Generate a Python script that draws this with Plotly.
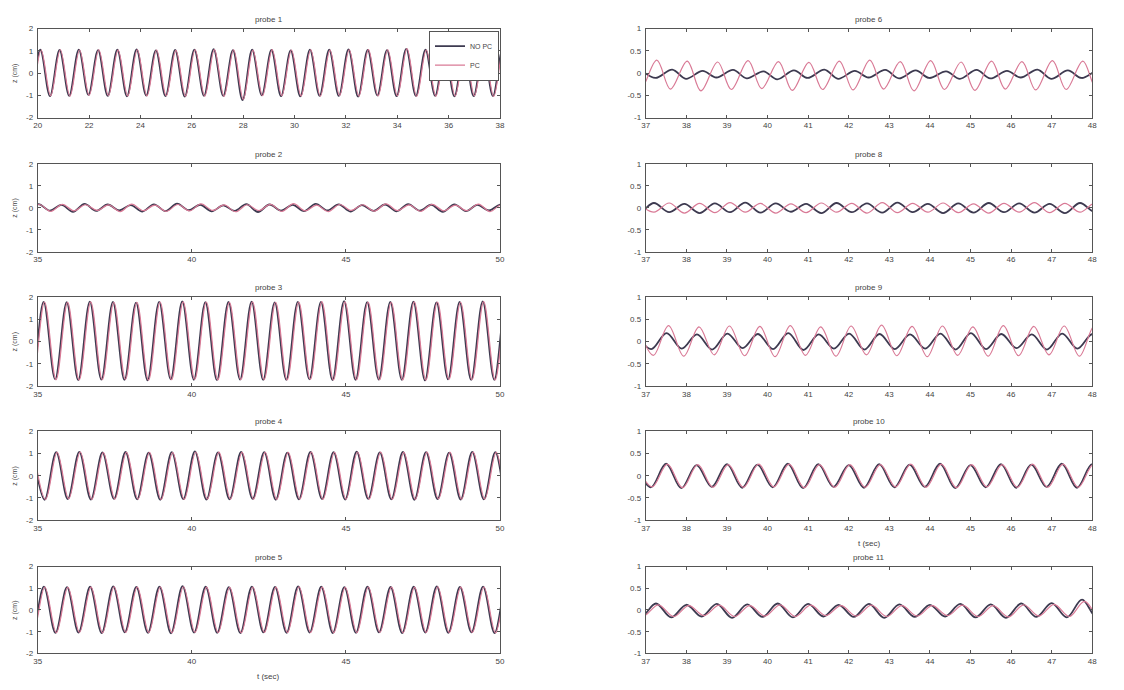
import plotly.graph_objects as go

PERIOD = 0.75  # wave period in seconds

SERIES_NAMES = ["NO PC", "PC"]
TITLES = ["probe 1", "probe 2", "probe 3", "probe 4", "probe 5",
          "probe 6", "probe 8", "probe 9", "probe 10", "probe 11"]

LEFT_Y_TICKS = [-2, -1, 0, 1, 2]
RIGHT_Y_TICKS = [-1, -0.5, 0, 0.5, 1]
RIGHT_Y_TEXT = ["-1", "-0.5", "0", "0.5", "1"]
P1_X_TICKS = [20, 22, 24, 26, 28, 30, 32, 34, 36, 38]
LEFT_X_TICKS = [35, 40, 45, 50]
RIGHT_X_TICKS = [37, 38, 39, 40, 41, 42, 43, 44, 45, 46, 47, 48]

# time of the first crest of each record and the crest-to-trough fraction of a period
PHASE_NOPC = [19.35, 34.27, 34.44, 34.85, 34.45, 36.90, 36.45, 36.76, 36.75, 36.50]
PHASE_PC = [19.38, 34.30, 34.47, 34.88, 34.48, 36.52, 36.825, 36.81, 36.78, 36.56]
TROUGH_FRAC = [0.5, 0.5, 0.5, 0.5, 0.5, 0.45, 0.5, 0.5, 0.5, 0.5]

# crest and trough elevations read per wave (cm)
P1_NOPC_CREST = [1.02, 1.05, 1.04, 1.06, 1.03, 1.05, 1.07, 1.02, 1.04, 1.06, 1.08, 1.03, 1.05,
                 1.04, 1.02, 1.06, 1.05, 1.07, 1.04, 1.03, 1.09, 1.05, 1.04, 1.06, 1.03, 1.05]
P1_NOPC_TROUGH = [-1.00, -1.04, -1.02, -0.98, -1.03, -1.05, -1.01, -1.04, -1.06, -1.02, -1.03, -1.22, -1.00,
                  -1.04, -1.05, -1.02, -1.03, -1.06, -1.01, -1.04, -1.03, -1.02, -1.05, -1.04, -1.03, -1.02]
P1_PC_CREST = [1.00, 1.03, 1.05, 1.04, 1.05, 1.03, 1.05, 1.04, 1.02, 1.05, 1.06, 1.05, 1.03,
               1.06, 1.04, 1.05, 1.03, 1.05, 1.06, 1.05, 1.10, 1.04, 1.06, 1.04, 1.05, 1.04]
P1_PC_TROUGH = [-0.98, -1.02, -1.04, -1.00, -1.01, -1.03, -1.03, -1.02, -1.04, -1.04, -1.05, -1.18, -1.02,
                -1.02, -1.03, -1.04, -1.01, -1.04, -1.03, -1.02, -1.05, -1.04, -1.03, -1.02, -1.05, -1.03]

P2_NOPC_CREST = [0.14, 0.17, 0.13, 0.18, 0.15, 0.12, 0.16, 0.19, 0.14, 0.11, 0.17,
                 0.15, 0.13, 0.18, 0.16, 0.12, 0.15, 0.17, 0.14, 0.16, 0.13, 0.15]
P2_NOPC_TROUGH = [-0.16, -0.13, -0.18, -0.14, -0.12, -0.17, -0.15, -0.11, -0.16, -0.14, -0.19,
                  -0.13, -0.15, -0.12, -0.17, -0.14, -0.16, -0.13, -0.18, -0.15, -0.12, -0.16]
P2_PC_CREST = [0.12, 0.15, 0.16, 0.14, 0.13, 0.17, 0.12, 0.15, 0.18, 0.13, 0.14,
               0.16, 0.19, 0.12, 0.15, 0.14, 0.18, 0.13, 0.16, 0.12, 0.17, 0.14]
P2_PC_TROUGH = [-0.13, -0.16, -0.14, -0.12, -0.17, -0.13, -0.16, -0.14, -0.12, -0.18, -0.13,
                -0.16, -0.14, -0.17, -0.12, -0.15, -0.13, -0.16, -0.14, -0.13, -0.17, -0.15]

P3_NOPC_CREST = [1.76, 1.79, 1.77, 1.80, 1.78, 1.75, 1.79, 1.81, 1.77, 1.78, 1.80,
                 1.76, 1.79, 1.78, 1.82, 1.77, 1.79, 1.80, 1.76, 1.78, 1.81, 1.79]
P3_NOPC_TROUGH = [-1.72, -1.70, -1.74, -1.71, -1.73, -1.75, -1.70, -1.72, -1.74, -1.71, -1.73,
                  -1.72, -1.70, -1.74, -1.73, -1.71, -1.72, -1.75, -1.70, -1.73, -1.72, -1.71]
P3_PC_CREST = [1.74, 1.78, 1.76, 1.79, 1.77, 1.77, 1.78, 1.79, 1.78, 1.76, 1.79,
               1.77, 1.78, 1.80, 1.79, 1.78, 1.77, 1.79, 1.78, 1.77, 1.80, 1.78]
P3_PC_TROUGH = [-1.70, -1.72, -1.73, -1.72, -1.71, -1.74, -1.72, -1.71, -1.73, -1.72, -1.72,
                -1.73, -1.71, -1.73, -1.72, -1.72, -1.73, -1.74, -1.71, -1.72, -1.73, -1.72]

P4_NOPC_CREST = [1.04, 1.06, 1.08, 1.05, 1.07, 1.04, 1.06, 1.10, 1.05, 1.07, 1.06,
                 1.04, 1.08, 1.06, 1.09, 1.05, 1.07, 1.06, 1.04, 1.08, 1.06, 1.05]
P4_NOPC_TROUGH = [-1.08, -1.05, -1.07, -1.04, -1.06, -1.08, -1.05, -1.07, -1.06, -1.04, -1.08,
                  -1.06, -1.05, -1.07, -1.04, -1.06, -1.08, -1.05, -1.07, -1.06, -1.05, -1.07]
P4_PC_CREST = [1.02, 1.05, 1.06, 1.04, 1.05, 1.05, 1.04, 1.07, 1.06, 1.05, 1.05,
               1.05, 1.06, 1.05, 1.07, 1.06, 1.05, 1.06, 1.05, 1.06, 1.05, 1.04]
P4_PC_TROUGH = [-1.06, -1.04, -1.06, -1.05, -1.05, -1.07, -1.06, -1.05, -1.05, -1.05, -1.06,
                -1.05, -1.06, -1.05, -1.05, -1.06, -1.06, -1.04, -1.06, -1.05, -1.06, -1.05]

P5_NOPC_CREST = [1.06, 1.08, 1.05, 1.07, 1.09, 1.06, 1.08, 1.10, 1.07, 1.05, 1.08,
                 1.06, 1.09, 1.07, 1.05, 1.08, 1.06, 1.07, 1.09, 1.06, 1.08, 1.07]
P5_NOPC_TROUGH = [-1.03, -1.05, -1.04, -1.06, -1.03, -1.05, -1.07, -1.04, -1.05, -1.06, -1.03,
                  -1.05, -1.04, -1.06, -1.05, -1.03, -1.06, -1.04, -1.05, -1.03, -1.06, -1.04]
P5_PC_CREST = [1.04, 1.06, 1.04, 1.05, 1.07, 1.05, 1.06, 1.07, 1.05, 1.04, 1.06,
               1.05, 1.07, 1.05, 1.04, 1.06, 1.05, 1.05, 1.07, 1.05, 1.06, 1.05]
P5_PC_TROUGH = [-1.02, -1.04, -1.03, -1.05, -1.03, -1.04, -1.05, -1.03, -1.04, -1.05, -1.03,
                -1.04, -1.03, -1.05, -1.04, -1.03, -1.05, -1.03, -1.04, -1.03, -1.05, -1.04]

P6_NOPC_CREST = [0.06, 0.08, 0.05, 0.07, 0.04, 0.06, 0.08, 0.05, 0.07, 0.06, 0.04, 0.07, 0.05, 0.08, 0.06, 0.05, 0.07]
P6_NOPC_TROUGH = [-0.11, -0.13, -0.10, -0.12, -0.14, -0.11, -0.13, -0.10, -0.12, -0.11, -0.13, -0.12, -0.10, -0.13, -0.11, -0.12, -0.10]
P6_PC_CREST = [0.26, 0.29, 0.27, 0.25, 0.28, 0.26, 0.24, 0.27, 0.29, 0.26, 0.28, 0.25, 0.27, 0.26, 0.28, 0.27, 0.25]
P6_PC_TROUGH = [-0.38, -0.36, -0.40, -0.37, -0.35, -0.39, -0.37, -0.38, -0.36, -0.40, -0.37, -0.39, -0.36, -0.38, -0.37, -0.35, -0.38]

P8_NOPC_CREST = [0.10, 0.11, 0.09, 0.10, 0.12, 0.10, 0.09, 0.11, 0.10, 0.12, 0.09, 0.10, 0.11, 0.10, 0.09, 0.11, 0.10]
P8_NOPC_TROUGH = [-0.11, -0.10, -0.12, -0.10, -0.11, -0.09, -0.12, -0.10, -0.11, -0.10, -0.12, -0.11, -0.10, -0.11, -0.12, -0.10, -0.11]
P8_PC_CREST = [0.09, 0.11, 0.10, 0.12, 0.10, 0.09, 0.11, 0.10, 0.12, 0.10, 0.11, 0.09, 0.10, 0.12, 0.10, 0.11, 0.09]
P8_PC_TROUGH = [-0.10, -0.12, -0.11, -0.10, -0.12, -0.11, -0.10, -0.12, -0.11, -0.10, -0.11, -0.12, -0.10, -0.11, -0.10, -0.12, -0.11]

P9_NOPC_CREST = [0.17, 0.19, 0.16, 0.18, 0.17, 0.19, 0.16, 0.18, 0.17, 0.16, 0.18, 0.19, 0.17, 0.16, 0.18, 0.17, 0.19]
P9_NOPC_TROUGH = [-0.17, -0.16, -0.18, -0.15, -0.17, -0.19, -0.16, -0.18, -0.17, -0.16, -0.18, -0.17, -0.15, -0.18, -0.16, -0.17, -0.18]
P9_PC_CREST = [0.34, 0.36, 0.33, 0.35, 0.34, 0.36, 0.33, 0.35, 0.37, 0.34, 0.35, 0.33, 0.36, 0.34, 0.35, 0.36, 0.34]
P9_PC_TROUGH = [-0.31, -0.33, -0.30, -0.32, -0.34, -0.31, -0.33, -0.30, -0.32, -0.34, -0.31, -0.33, -0.32, -0.30, -0.33, -0.31, -0.32]

P10_NOPC_CREST = [0.25, 0.27, 0.24, 0.26, 0.25, 0.27, 0.26, 0.24, 0.26, 0.25, 0.27, 0.24, 0.26, 0.25, 0.27, 0.26, 0.25]
P10_NOPC_TROUGH = [-0.26, -0.28, -0.25, -0.27, -0.26, -0.28, -0.25, -0.27, -0.26, -0.25, -0.28, -0.26, -0.27, -0.25, -0.27, -0.26, -0.28]
P10_PC_CREST = [0.24, 0.26, 0.25, 0.25, 0.26, 0.26, 0.25, 0.25, 0.25, 0.26, 0.26, 0.25, 0.25, 0.26, 0.26, 0.25, 0.26]
P10_PC_TROUGH = [-0.25, -0.27, -0.26, -0.26, -0.25, -0.27, -0.26, -0.26, -0.25, -0.26, -0.27, -0.25, -0.26, -0.26, -0.26, -0.25, -0.27]

P11_NOPC_CREST = [0.13, 0.15, 0.12, 0.14, 0.13, 0.15, 0.14, 0.12, 0.14, 0.13, 0.12, 0.14, 0.13, 0.15, 0.16, 0.24, 0.14]
P11_NOPC_TROUGH = [-0.16, -0.17, -0.15, -0.18, -0.16, -0.17, -0.15, -0.16, -0.18, -0.16, -0.15, -0.17, -0.18, -0.16, -0.17, -0.19, -0.18]
P11_PC_CREST = [0.10, 0.12, 0.10, 0.11, 0.10, 0.12, 0.11, 0.10, 0.11, 0.10, 0.10, 0.11, 0.10, 0.12, 0.13, 0.20, 0.12]
P11_PC_TROUGH = [-0.14, -0.15, -0.13, -0.15, -0.14, -0.15, -0.13, -0.14, -0.15, -0.14, -0.13, -0.15, -0.16, -0.14, -0.15, -0.17, -0.16]

NOPC_RECORDS = [
    (P1_NOPC_CREST, P1_NOPC_TROUGH), (P2_NOPC_CREST, P2_NOPC_TROUGH), (P3_NOPC_CREST, P3_NOPC_TROUGH),
    (P4_NOPC_CREST, P4_NOPC_TROUGH), (P5_NOPC_CREST, P5_NOPC_TROUGH), (P6_NOPC_CREST, P6_NOPC_TROUGH),
    (P8_NOPC_CREST, P8_NOPC_TROUGH), (P9_NOPC_CREST, P9_NOPC_TROUGH), (P10_NOPC_CREST, P10_NOPC_TROUGH),
    (P11_NOPC_CREST, P11_NOPC_TROUGH),
]
PC_RECORDS = [
    (P1_PC_CREST, P1_PC_TROUGH), (P2_PC_CREST, P2_PC_TROUGH), (P3_PC_CREST, P3_PC_TROUGH),
    (P4_PC_CREST, P4_PC_TROUGH), (P5_PC_CREST, P5_PC_TROUGH), (P6_PC_CREST, P6_PC_TROUGH),
    (P8_PC_CREST, P8_PC_TROUGH), (P9_PC_CREST, P9_PC_TROUGH), (P10_PC_CREST, P10_PC_TROUGH),
    (P11_PC_CREST, P11_PC_TROUGH),
]


def extrema_series(t_first, frac, crests, troughs):
    """Interleave crest and trough samples on the time axis."""
    t, z = [], []
    for k, (c, tr) in enumerate(zip(crests, troughs)):
        t.append(t_first + k * PERIOD)
        z.append(c)
        t.append(t_first + (k + frac) * PERIOD)
        z.append(tr)
    return t, z


W, H = 1124, 690
# panel boxes in pixels: (left, right) columns and (top, bottom) rows
COLS = [(34, 500), (647, 1097)]
ROWS = [(25, 115), (162, 251), (297, 387), (433, 523), (570, 658)]

AXIS_COLOR = "#555555"
TEXT_COLOR = "#444444"
FONT = "Liberation Sans"
NOPC_COLOR = "#3d3a50"
PC_COLOR = "#d97a96"

fig = go.Figure()
annotations = []
layout_axes = {}

for i in range(10):
    col = 0 if i < 5 else 1
    row = i % 5
    n = i + 1
    xa = "xaxis" if n == 1 else f"xaxis{n}"
    ya = "yaxis" if n == 1 else f"yaxis{n}"
    xref = "x" if n == 1 else f"x{n}"
    yref = "y" if n == 1 else f"y{n}"

    l, r = COLS[col]
    top, bot = ROWS[row]
    xdom = [l / W, r / W]
    ydom = [1 - bot / H, 1 - top / H]

    if col == 0:
        xticks = P1_X_TICKS if i == 0 else LEFT_X_TICKS
        yticks, ytext = LEFT_Y_TICKS, [str(v) for v in LEFT_Y_TICKS]
    else:
        xticks = RIGHT_X_TICKS
        yticks, ytext = RIGHT_Y_TICKS, RIGHT_Y_TEXT
    xr = [xticks[0], xticks[-1]]
    yr = [yticks[0], yticks[-1]]

    common = dict(showline=True, linecolor=AXIS_COLOR, linewidth=1, mirror="ticks",
                  ticks="inside", ticklen=3, tickcolor=AXIS_COLOR, tickwidth=1,
                  showgrid=False, zeroline=False,
                  tickfont=dict(family=FONT, size=8, color=TEXT_COLOR))
    layout_axes[xa] = dict(common, domain=xdom, range=xr, tickvals=xticks,
                           ticktext=[str(v) for v in xticks], anchor=yref)
    layout_axes[ya] = dict(common, domain=ydom, range=yr, tickvals=yticks,
                           ticktext=ytext, anchor=xref, ticklabelstandoff=2)

    for name, recs, phases, color, width in (
        (SERIES_NAMES[0], NOPC_RECORDS, PHASE_NOPC, NOPC_COLOR, 1.8),
        (SERIES_NAMES[1], PC_RECORDS, PHASE_PC, PC_COLOR, 1.2),
    ):
        crests, troughs = recs[i]
        t, z = extrema_series(phases[i], TROUGH_FRAC[i], crests, troughs)
        fig.add_trace(go.Scatter(
            x=t, y=z, mode="lines", name=name, xaxis=xref, yaxis=yref,
            line=dict(color=color, width=width, shape="spline", smoothing=1.0),
            showlegend=(i == 0), cliponaxis=True,
        ))

    # panel title
    annotations.append(dict(text=TITLES[i], x=(l + r) / 2 / W, y=1 - (top - 3) / H,
                            xref="paper", yref="paper", xanchor="center", yanchor="bottom",
                            showarrow=False, font=dict(family=FONT, size=8, color=TEXT_COLOR)))
    if col == 0:
        annotations.append(dict(text="z (cm)", x=11 / W, y=1 - (top + bot) / 2 / H,
                                xref="paper", yref="paper", xanchor="center", yanchor="middle",
                                textangle=-90, showarrow=False,
                                font=dict(family=FONT, size=7, color=TEXT_COLOR)))

# time axis labels
for (l, r), bot in ((COLS[0], ROWS[4][1]), (COLS[1], ROWS[3][1])):
    annotations.append(dict(text="t (sec)", x=(l + r) / 2 / W, y=1 - (bot + 17) / H,
                            xref="paper", yref="paper", xanchor="center", yanchor="top",
                            showarrow=False, font=dict(family=FONT, size=8, color=TEXT_COLOR)))

fig.update_layout(
    width=W, height=H,
    margin=dict(l=0, r=0, t=0, b=0),
    paper_bgcolor="white", plot_bgcolor="white",
    annotations=annotations,
    legend=dict(x=499 / W, y=1 - 27 / H, xanchor="right", yanchor="top",
                bgcolor="white", bordercolor=AXIS_COLOR, borderwidth=1,
                font=dict(family=FONT, size=7, color=TEXT_COLOR),
                tracegroupgap=0, itemwidth=30),
    **layout_axes,
)

fig.write_html("out.html")
